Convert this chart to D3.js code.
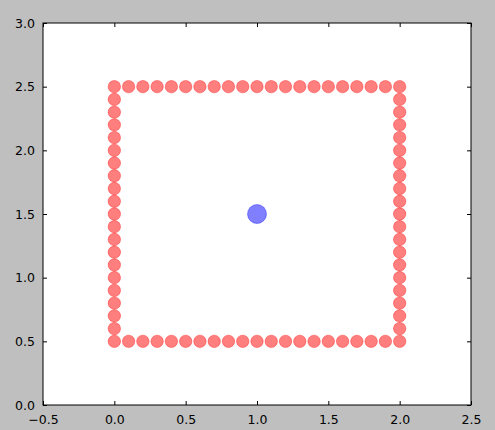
<!DOCTYPE html>
<html>
<head>
<meta charset="utf-8">
<script src="https://cdn.jsdelivr.net/npm/d3@7"></script>
<style>
  html, body { margin: 0; padding: 0; background: #bfbfbf; }
  svg { display: block; }
  text { font-family: "DejaVu Sans", sans-serif; font-size: 12.5px; fill: #000; }
</style>
</head>
<body>
<script>
// Data
const boundaryX = [0.0, 0.1, 0.2, 0.3, 0.4, 0.5, 0.6, 0.7, 0.8, 0.9, 1.0, 1.1, 1.2, 1.3, 1.4, 1.5, 1.6, 1.7, 1.8, 1.9, 2.0];
const boundaryY = [0.5, 0.6, 0.7, 0.8, 0.9, 1.0, 1.1, 1.2, 1.3, 1.4, 1.5, 1.6, 1.7, 1.8, 1.9, 2.0, 2.1, 2.2, 2.3, 2.4, 2.5];
const centerPoint = [1.0, 1.5];
const xTicks = [-0.5, 0.0, 0.5, 1.0, 1.5, 2.0, 2.5];
const yTicks = [0.0, 0.5, 1.0, 1.5, 2.0, 2.5, 3.0];
const xDomain = [-0.5, 2.5];
const yDomain = [0.0, 3.0];

// Build boundary points (unique)
const redPoints = [];
boundaryX.forEach(v => redPoints.push([v, 0.5]));
boundaryX.forEach(v => redPoints.push([v, 2.5]));
boundaryY.slice(1, -1).forEach(v => redPoints.push([0.0, v]));
boundaryY.slice(1, -1).forEach(v => redPoints.push([2.0, v]));

const W = 495, H = 430;
const mLeft = 43, mRight = 471, mTop = 23, mBottom = 405;

const svg = d3.select("body").append("svg").attr("width", W).attr("height", H);
svg.append("rect").attr("width", W).attr("height", H).attr("fill", "#bfbfbf");

const x = d3.scaleLinear().domain(xDomain).range([mLeft, mRight]);
const y = d3.scaleLinear().domain(yDomain).range([mBottom, mTop]);

svg.append("rect").attr("x", mLeft).attr("y", mTop).attr("width", mRight - mLeft).attr("height", mBottom - mTop).attr("fill", "#fff");

const fmt = d3.format(".1f");
const fmtLabel = v => fmt(v).replace("-", "\u2212");

const tickLen = 4;
svg.append("g").attr("transform", `translate(0,${mBottom})`)
  .call(d3.axisBottom(x).tickValues(xTicks).tickSize(-tickLen).tickPadding(6 + tickLen).tickFormat(fmtLabel))
  .call(g => { g.select(".domain").remove(); g.selectAll("text").style("font-family", "DejaVu Sans").style("font-size", "12.5px"); });
svg.append("g").attr("transform", `translate(0,${mTop})`)
  .call(d3.axisTop(x).tickValues(xTicks).tickSize(-tickLen).tickFormat(""))
  .call(g => g.select(".domain").remove());
svg.append("g").attr("transform", `translate(${mLeft},0)`)
  .call(d3.axisLeft(y).tickValues(yTicks).tickSize(-tickLen).tickPadding(4 + tickLen).tickFormat(fmtLabel))
  .call(g => { g.select(".domain").remove(); g.selectAll("text").style("font-family", "DejaVu Sans").style("font-size", "12.5px"); });
svg.append("g").attr("transform", `translate(${mRight},0)`)
  .call(d3.axisRight(y).tickValues(yTicks).tickSize(-tickLen).tickFormat(""))
  .call(g => g.select(".domain").remove());

svg.append("g").selectAll("circle").data(redPoints).join("circle")
  .attr("cx", d => x(d[0])).attr("cy", d => y(d[1])).attr("r", 6.2)
  .attr("fill", "rgba(255,0,0,0.5)").attr("stroke", "rgba(255,0,0,0.35)").attr("stroke-width", 1);

svg.append("circle").attr("cx", x(centerPoint[0])).attr("cy", y(centerPoint[1])).attr("r", 9.5)
  .attr("fill", "rgba(0,0,255,0.5)").attr("stroke", "rgba(0,0,255,0.35)").attr("stroke-width", 1);

svg.append("rect").attr("x", mLeft).attr("y", mTop).attr("width", mRight - mLeft).attr("height", mBottom - mTop)
  .attr("fill", "none").attr("stroke", "#000").attr("stroke-width", 1);
</script>
</body>
</html>
